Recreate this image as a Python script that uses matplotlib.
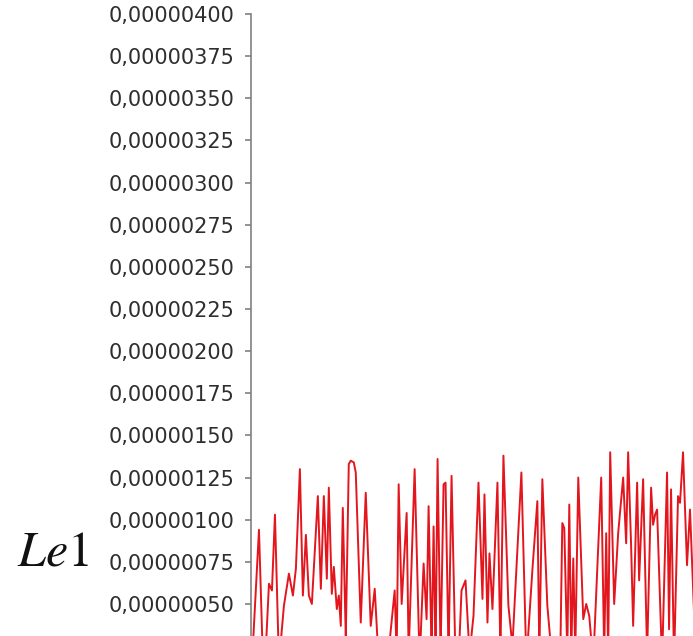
import numpy as np
import matplotlib
matplotlib.use("Agg")
import matplotlib.pyplot as plt
from matplotlib.ticker import FuncFormatter, MultipleLocator

plt.rcParams["mathtext.fontset"] = "stix"

# sample position along the record
t = [1, 8, 12, 15, 18, 21, 24, 28, 33, 38, 42, 45, 49, 52, 55, 58, 61,
     67, 70, 73, 76, 78, 81, 83, 86, 88, 90, 92, 95, 98, 100, 103, 105,
     110, 115, 120, 124, 128, 136, 144, 146, 148, 151, 156, 158, 164, 169,
     173, 176, 178, 181, 183, 185, 187, 190, 193, 195, 198, 201, 205, 208,
     211, 215, 219, 223, 228, 232, 234, 237, 239, 242, 247, 250, 253, 258,
     262, 271, 276, 282, 287, 289, 292, 297, 302, 310, 312, 314, 317, 319,
     321, 323, 325, 328, 333, 336, 339, 343, 351, 354, 356, 358, 360, 364,
     368, 373, 376, 378, 381, 383, 387, 389, 393, 397, 401, 403, 405, 407,
     412, 417, 419, 421, 424, 428, 430, 433, 437, 440, 446]

# Le1 values, in units of 1e-6
le1 = [0.15, 0.94, 0.15, 0.25, 0.62, 0.58, 1.03, 0.15, 0.49, 0.68, 0.55,
       0.71, 1.30, 0.55, 0.91, 0.55, 0.50, 1.14, 0.59, 1.14, 0.65, 1.19,
       0.56, 0.72, 0.47, 0.55, 0.37, 1.07, 0.30, 1.33, 1.35, 1.34, 1.28,
       0.39, 1.16, 0.37, 0.59, 0.15, 0.10, 0.58, 0.20, 1.21, 0.50, 1.04,
       0.20, 1.30, 0.15, 0.74, 0.41, 1.08, 0.20, 0.96, 0.20, 1.36, 0.20,
       1.21, 1.22, 0.20, 1.26, 0.15, 0.15, 0.58, 0.64, 0.20, 0.43, 1.22,
       0.53, 1.15, 0.39, 0.80, 0.47, 1.22, 0.20, 1.38, 0.49, 0.25, 1.28,
       0.15, 0.70, 1.11, 0.20, 1.24, 0.49, 0.15, 0.20, 0.98, 0.95, 0.20,
       1.09, 0.20, 0.77, 0.20, 1.25, 0.41, 0.50, 0.43, 0.15, 1.25, 0.20,
       0.92, 0.20, 1.40, 0.50, 0.92, 1.25, 0.86, 1.40, 0.84, 0.37, 1.22,
       0.64, 1.24, 0.20, 1.19, 0.97, 1.03, 1.06, 0.15, 1.28, 0.35, 1.18,
       0.15, 1.14, 1.10, 1.40, 0.73, 1.06, 0.15]

y_ticks_step = 0.25e-6

fig = plt.figure(figsize=(6.93, 6.36), dpi=100)
ax = fig.add_axes([251 / 693, 0, 1 - 251 / 693, 1 - 14 / 636])

ax.plot(t, np.array(le1) * 1e-6, color="#e3161e", linewidth=1.4)

ax.set_xlim(0, 443)
ax.set_ylim(0.31e-6, 4.0e-6)
ax.yaxis.set_major_locator(MultipleLocator(y_ticks_step))
ax.yaxis.set_major_formatter(
    FuncFormatter(lambda v, pos: f"{v:.8f}".replace(".", ",")))

for side in ("top", "right", "bottom"):
    ax.spines[side].set_visible(False)
ax.spines["left"].set_color("#808080")
ax.spines["left"].set_linewidth(1.2)
ax.tick_params(axis="y", length=4, width=1.2, color="#808080",
               pad=8, labelsize=15, labelcolor="#2e2e2e")
ax.tick_params(axis="x", bottom=False, labelbottom=False)

fig.text(53 / 693, 1 - 551 / 636, r"$Le1$", fontsize=36,
         ha="center", va="center", color="#111111")

fig.savefig("out.png", dpi=100, facecolor="white")
